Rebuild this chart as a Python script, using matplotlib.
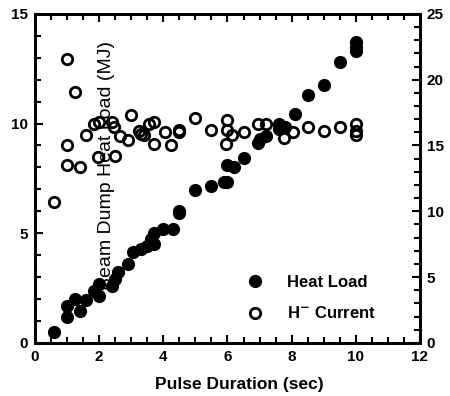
import numpy as np
import matplotlib
matplotlib.use("Agg")
import matplotlib.pyplot as plt
from matplotlib.ticker import MultipleLocator
from matplotlib.lines import Line2D

# Heat Load (left axis, MJ) vs pulse duration (sec)
heat_t = [0.6, 1.0, 1.0, 1.25, 1.4, 1.6, 1.85, 2.0, 2.0, 2.4, 2.5, 2.6, 2.9,
          3.05, 3.3, 3.5, 3.6, 3.7, 3.7, 4.0, 4.3, 4.5, 4.5, 5.0, 5.5, 5.9,
          6.0, 6.0, 6.2, 6.5, 6.95, 7.0, 7.2, 7.6, 7.6, 7.8, 8.1, 8.5, 9.0,
          9.5, 10.0, 10.0, 10.0]
heat_load = [0.5, 1.2, 1.7, 2.0, 1.45, 1.95, 2.35, 2.15, 2.7, 2.6, 2.9, 3.25,
             3.6, 4.15, 4.3, 4.4, 4.75, 4.5, 5.0, 5.2, 5.2, 5.9, 6.0, 6.95,
             7.15, 7.35, 7.35, 8.1, 8.0, 8.45, 9.1, 9.3, 9.45, 10.0, 9.75, 9.85,
             10.45, 11.3, 11.75, 12.8, 13.3, 13.5, 13.7]

# H- current (right axis) vs pulse duration (sec)
cur_t = [0.6, 1.0, 1.25, 1.0, 1.0, 1.4, 1.6, 1.85, 1.95, 2.0, 2.4, 2.45, 2.5,
         2.65, 2.9, 3.0, 3.25, 3.3, 3.4, 3.55, 3.7, 3.7, 4.05, 4.25, 4.5, 4.5,
         5.0, 5.5, 6.0, 6.0, 6.15, 5.95, 6.5, 6.95, 7.2, 7.75, 8.05, 8.5, 9.0,
         9.5, 10.0, 10.0, 10.0]
h_current = [10.7, 21.6, 19.1, 15.0, 13.5, 13.4, 15.8, 16.6, 14.1, 16.8, 16.8,
             16.4, 14.2, 15.7, 15.4, 17.3, 16.1, 15.9, 15.8, 16.6, 15.1, 16.8,
             16.0, 15.0, 16.0, 16.2, 17.1, 16.2, 16.9, 16.2, 15.8, 15.1, 16.0,
             16.6, 16.6, 15.6, 16.0, 16.4, 16.1, 16.4, 16.6, 16.1, 15.8]

plt.rcParams['font.family'] = ['Liberation Sans', 'DejaVu Sans']

fig = plt.figure(figsize=(4.5, 3.96), dpi=100)
ax = fig.add_axes([0.078, 0.134, 0.855, 0.831])
ax2 = ax.twinx()

ax.plot(heat_t, heat_load, 'o', color='black', markersize=9.5, markeredgewidth=0)
ax2.plot(cur_t, h_current, 'o', markerfacecolor='none', markeredgecolor='black',
         markersize=7.5, markeredgewidth=2.0)

ax.set_xlim(0, 12)
ax.set_ylim(0, 15)
ax2.set_ylim(0, 25)

ax.xaxis.set_major_locator(MultipleLocator(2))
ax.xaxis.set_minor_locator(MultipleLocator(0.5))
ax.yaxis.set_major_locator(MultipleLocator(5))
ax.yaxis.set_minor_locator(MultipleLocator(1))
ax2.yaxis.set_major_locator(MultipleLocator(5))
ax2.yaxis.set_minor_locator(MultipleLocator(1))

for a in (ax, ax2):
    for s in a.spines.values():
        s.set_linewidth(2)
ax.tick_params(which='both', direction='in', top=True, right=False, width=1.5,
               labelsize=11, pad=5)
ax.tick_params(which='major', length=6)
ax.tick_params(which='minor', length=4)
ax2.tick_params(which='both', direction='in', width=1.5, labelsize=11, pad=5)
ax2.tick_params(which='major', length=6)
ax2.tick_params(which='minor', length=4)
for lab in ax.get_xticklabels() + ax.get_yticklabels() + ax2.get_yticklabels():
    lab.set_fontweight('bold')

ax.set_xlabel('Pulse Duration (sec)', fontsize=12.5, fontweight='bold', labelpad=6)
ax.xaxis.set_label_coords(0.53, -0.105)
ax.set_ylabel('Beam Dump Heat Load (MJ)', fontsize=14)
ax.yaxis.set_label_coords(0.208, 0.54)

handles = [Line2D([], [], ls='none', marker='o', color='black', markersize=9.5,
                  markeredgewidth=0),
           Line2D([], [], ls='none', marker='o', markerfacecolor='none',
                  markeredgecolor='black', markersize=7.5, markeredgewidth=2.0)]
leg = ax2.legend(handles, ['Heat Load', r'H$^{\mathbf{-}}$ Current'],
                 loc='lower right', bbox_to_anchor=(0.925, 0.02), frameon=False,
                 prop={'weight': 'bold', 'size': 12}, handletextpad=0.9,
                 labelspacing=0.95)

fig.savefig('out.png', dpi=100)
